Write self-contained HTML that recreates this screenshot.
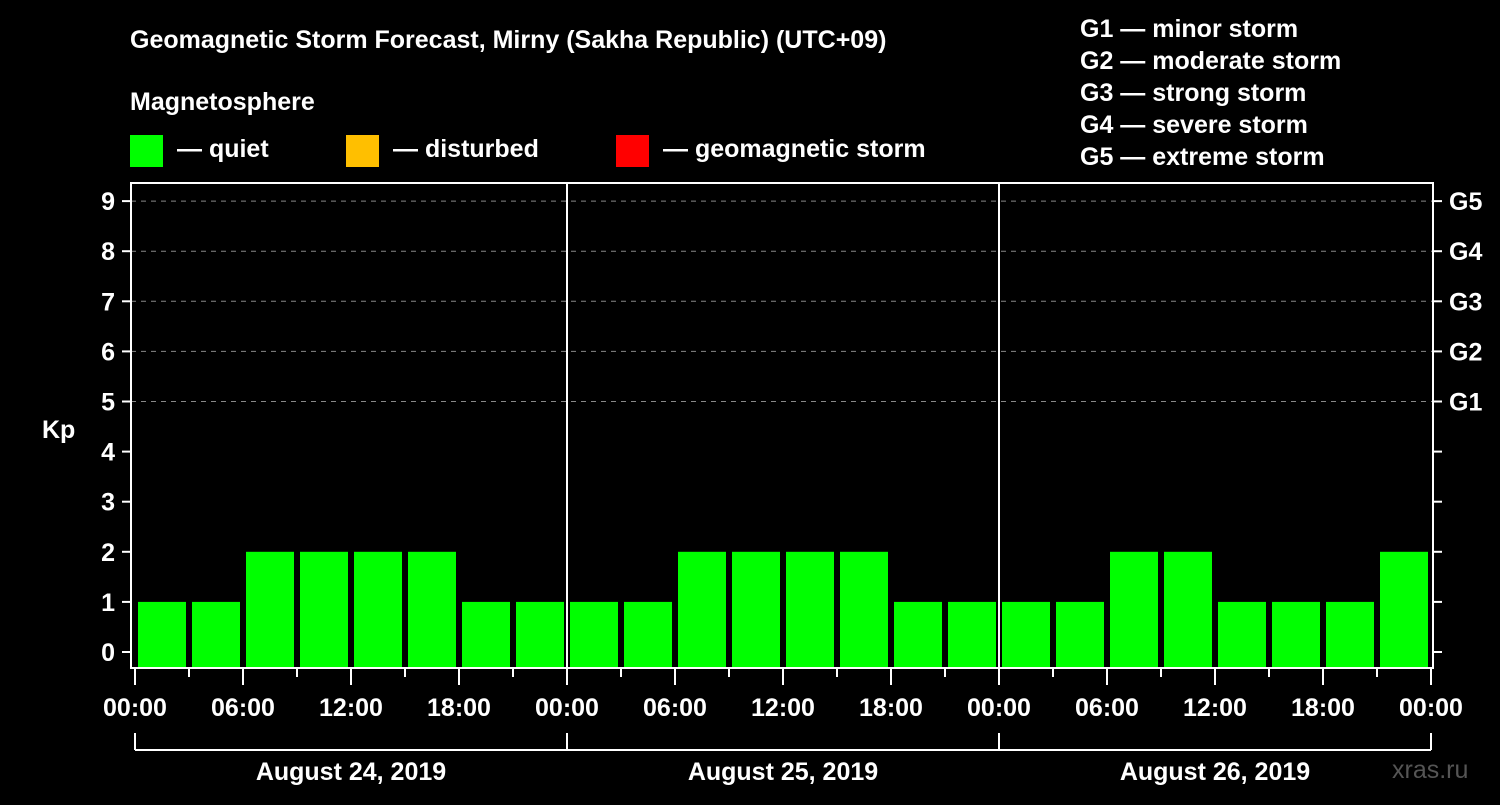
<!DOCTYPE html>
<html><head><meta charset="utf-8"><style>
html,body{margin:0;padding:0;background:#000;}
svg text{font-family:"Liberation Sans",Arial,sans-serif;font-weight:bold;fill:#fff;}
</style></head><body>
<svg id="chart" width="1500" height="800" viewBox="0 0 1500 800" xmlns="http://www.w3.org/2000/svg">
<rect width="1500" height="800" fill="#000"/>
<text x="130" y="48" font-size="25">Geomagnetic Storm Forecast, Mirny (Sakha Republic) (UTC+09)</text>
<text x="130" y="110" font-size="25">Magnetosphere</text>
<rect x="130" y="135" width="33" height="32" fill="#00ff00"/>
<text x="177" y="157" font-size="25">— quiet</text>
<rect x="346" y="135" width="33" height="32" fill="#ffbf00"/>
<text x="393" y="157" font-size="25">— disturbed</text>
<rect x="616" y="135" width="33" height="32" fill="#ff0000"/>
<text x="663" y="157" font-size="25">— geomagnetic storm</text>
<g font-size="25">
<text x="1080" y="37">G1 — minor storm</text>
<text x="1080" y="69">G2 — moderate storm</text>
<text x="1080" y="101">G3 — strong storm</text>
<text x="1080" y="133">G4 — severe storm</text>
<text x="1080" y="165">G5 — extreme storm</text>
</g>
<text x="42" y="438" font-size="25">Kp</text>
<text x="1392" y="778" font-size="25" fill="#555" style="fill:#555;font-weight:normal">xras.ru</text>
<g id="plot"></g>
</svg>
<script>
const days = ["August 24, 2019","August 25, 2019","August 26, 2019"];
const kpValues = [1,1,2,2,2,2,1,1, 1,1,2,2,2,2,1,1, 1,1,2,2,1,1,1,2];
const yTicks = [0,1,2,3,4,5,6,7,8,9];
const gLabels = ["G1","G2","G3","G4","G5"];
const xTickLabels = ["00:00","06:00","12:00","18:00"];

const NS="http://www.w3.org/2000/svg";
const g=document.getElementById('plot');
const L=131,R=1433,T=183,B=668,X0=135,HOUR=18;
const y=v=>652-50.1*v;
const x=h=>X0+h*HOUR;
function el(tag,attrs,parent){const e=document.createElementNS(NS,tag);for(const k in attrs)e.setAttribute(k,attrs[k]);(parent||g).appendChild(e);return e;}

// grid lines
[5,6,7,8,9].forEach(v=>{
  const l=el('line',{x1:L,x2:R,y1:y(v),y2:y(v),stroke:'#888','stroke-dasharray':'5,5','stroke-width':1});
  
  
});
// bars
kpValues.forEach((v,i)=>{
  const c=v>=5?'#ff0000':(v>=4?'#ffbf00':'#00ff00');
  const r=el('rect',{x:x(i*3)+3,y:y(v),width:HOUR*3-6,height:B-y(v),fill:c});
  
  
});
// day separators
for(let d=1;d<days.length;d++){
  const l=el('line',{x1:x(d*24),x2:x(d*24),y1:T,y2:B,stroke:'#fff','stroke-width':2});
  
  
}
// frame
const f=el('rect',{x:L,y:T,width:R-L,height:B-T,fill:'none',stroke:'#fff','stroke-width':2});


// y ticks
yTicks.forEach(v=>{
  el('line',{x1:122,x2:L,y1:y(v),y2:y(v),stroke:'#fff','stroke-width':2});
  el('line',{x1:R,x2:1442,y1:y(v),y2:y(v),stroke:'#fff','stroke-width':2});
  const t=el('text',{x:115,y:y(v)+9,'font-size':25,'text-anchor':'end'});
  t.textContent=v;
  
  
});
gLabels.forEach((s,i)=>{
  const t=el('text',{x:1449,y:y(5+i)+9,'font-size':25});
  t.textContent=s;
  
  
});
// x ticks
for(let h=0;h<=days.length*24;h+=3){
  const major=h%6===0;
  el('line',{x1:x(h),x2:x(h),y1:B,y2:major?685:677,stroke:'#fff','stroke-width':2});
  if(major){
    const t=el('text',{x:x(h),y:716,'font-size':25,'text-anchor':'middle'});
    t.textContent=xTickLabels[(h%24)/6];
    
    
  }
}
// day brackets
el('line',{x1:x(0),x2:x(days.length*24),y1:750,y2:750,stroke:'#fff','stroke-width':2});
for(let d=0;d<=days.length;d++) el('line',{x1:x(d*24),x2:x(d*24),y1:733,y2:750,stroke:'#fff','stroke-width':2});
days.forEach((s,d)=>{
  const t=el('text',{x:x(d*24+12),y:780,'font-size':25,'text-anchor':'middle'});
  t.textContent=s;
  
  
});
</script>
</body></html>
